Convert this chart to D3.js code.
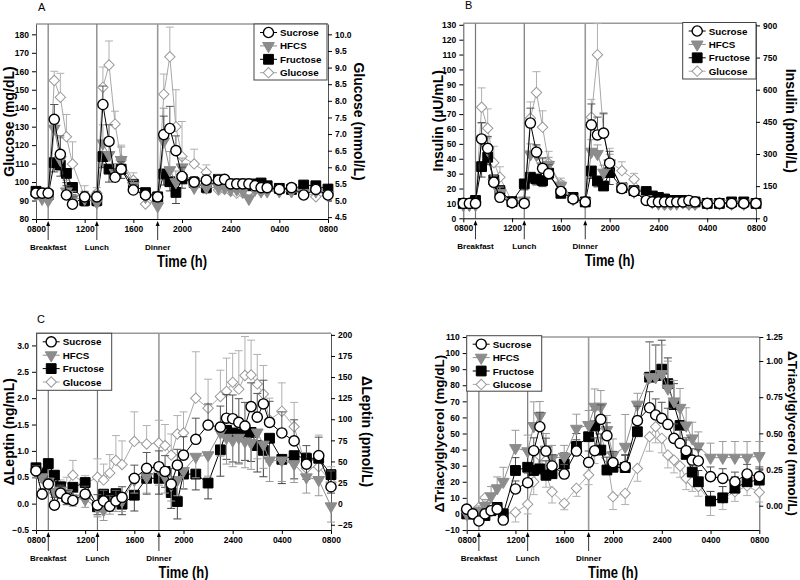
<!DOCTYPE html>
<html><head><meta charset="utf-8">
<script src="https://cdn.jsdelivr.net/npm/d3@7"></script>
<style>body{margin:0;background:#fff}svg{display:block;font-family:Arial,"Liberation Sans",sans-serif}</style>
</head><body><svg id="c" width="800" height="580"></svg>
<script>
// ---- shared ----
const times = [8,8.5,9,9.5,10,10.5,11,12,13,13.5,14,14.5,15,16,17,18,18.5,19,19.5,20,21,22,23,23.5,24,24.5,25,25.5,26,26.5,27,28,29,30,31,32];
const timeTicks = [8,12,16,20,24,28,32];
const timeTickLabels = ["0800","1200","1600","2000","2400","0400","0800"];
const meals = [9,13,18];
const mealLabels = ["Breakfast","Lunch","Dinner"];
const seriesNames = ["Sucrose","HFCS","Fructose","Glucose"];

// ---- Panel A: glucose mg/dL ----
const sucA = [94,94,94,134,115,93,88,92,92,142,122,102.6,107,95.7,93,92,125.7,129,117,103,100,101,101,101.5,99,99,99,99,98,97,97,96,97,93,96,93];
const hfcsA = [93,91,90,129,112,95,91,91,89,121,114.7,105,112,98,92,87,122,106.5,100,108,97,97,97,97,96,96,95,91,96,95,95,95,95,94,95,93];
const fruA = [95,94,93,110.5,109.2,104.7,97.1,90,90,113.8,107,104.7,107,98.8,94.3,92,104.4,100.2,94.4,101.7,99.7,97.1,101.5,100,99,98,99,98,99,99.5,98,96.6,96,98.4,98,96.2];
const gluA = [93,92,92,155,145.9,124.6,109.8,92,94,151.3,163.4,131.4,112,101,88.1,90,147.5,167.9,130,113.8,109.8,105.3,95.7,96,95,94,94,95,96,95,96,96,96,95,92,93];
const sucAErr = [2,2,2,8,10,5,4,3,3,10,9,4,4,3,2,2,10,12,8,5,3,3,3,2,2,2,2,2,2,2,2,2,2,2,2,2];
const hfcsAErr = [2,2,2,13,12,6,4,3,3,10,8,5,7,3,2,3,18,10,6,5,3,2,2,2,2,2,2,2,2,2,2,2,2,2,2,2];
const fruAErr = [2,2,2,5,6,5,4,3,3,6,7,4,5,3,3,3,6,5,6,5,3,3,3,2,2,2,2,2,2,2,2,2,2,2,2,2];
const gluAErr = [3,3,3,5,13,12,12,6,3,11,13,7,8,4,3,3,11,16,20,19,8,4,3,3,3,3,3,3,3,3,3,3,3,3,3,3];
const ticksA = [80,90,100,110,120,130,140,150,160,170,180];
const ticksAR = [4.5,5.0,5.5,6.0,6.5,7.0,7.5,8.0,8.5,9.0,9.5,10.0];

// ---- Panel B: insulin µU/mL ----
const sucB = [10,10,10,53.3,47,24.2,14.1,10.5,10,64,44.4,33.6,30,18,13,11,62.8,56,57.2,37,20,18,12,11,11,11,11,11,11,12,11,10,10,10,10,10];
const hfcsB = [9,9,9,53,46,24,17,11,12,43,42.6,35,36,22,13,11,44.8,43.3,30.7,37,21,18,13,11,10,10,10,10,11,10,10,10,10,10,10,10];
const fruB = [10,10,12,34.7,41,25.8,18.6,11.2,23.1,27.6,26.4,25.3,30.3,16.8,14,11,31.8,25.1,21.7,30.7,20.6,18.6,18,15,14,13,12,12,12,11,11,10,10,11,11,10];
const gluB = [10,9,9,74.6,60.5,37.4,27.6,11,12,67.2,84.5,61.2,37,23,14,11,67.9,109.8,57,38,32,26.2,13,11,10,9,9,10,10,9,9,10,10,9,9,10];
const sucBErr = [1,1,1,11,8,4,3,2,2,10,5,7,6,3,2,2,14,12,13,8,3,3,2,1,1,1,1,1,1,1,1,1,1,1,1,1];
const hfcsBErr = [1,1,1,11,8,5,4,2,2,7,6,5,5,3,2,2,8,6,5,6,3,3,2,1,1,1,1,1,1,1,1,1,1,1,1,1];
const fruBErr = [1,1,2,7,5,4,3,2,4,4,4,4,4,3,2,2,5,4,3,8,3,3,3,2,2,2,1,1,1,1,1,1,1,1,1,1];
const gluBErr = [1,1,1,13,13,11,7,2,2,11,14,11,8,4,2,2,12,21,14,9,6,4,2,1,1,1,1,1,1,1,1,1,1,1,1,1];
const ticksB = [0,10,20,30,40,50,60,70,80,90,100,110,120,130];
const ticksBR = [0,150,300,450,600,750,900];

// ---- Panel C: delta leptin ng/mL ----
const sucC = [0.62,0.18,0.37,-0.03,0.2,0.1,0.06,0.18,-0.03,0.05,-0.05,0.05,0.12,0.48,0.67,0.70,0.61,0.37,0.73,0.92,1.22,1.49,1.45,1.62,1.61,1.54,1.47,1.84,1.64,1.89,1.54,1.34,1.19,0.75,0.91,0.32];
const hfcsC = [0.6,0.5,0.42,0.22,0.25,0.2,0.1,0.08,-0.08,-0.12,0.0,0.05,0.05,0.45,0.5,0.65,0.5,0.35,0.45,0.62,0.89,0.92,1.35,1.25,1.2,1.25,1.18,1.15,1.35,1.12,0.82,0.82,0.75,0.5,0.45,-0.05];
const fruC = [0.68,0.58,0.76,0.54,0.32,0.13,0.31,0.40,-0.06,0.18,0.10,0.19,-0.01,0.16,0.48,0.48,0.61,0.21,0.04,0.56,0.56,0.39,1.02,1.39,1.34,1.32,1.37,1.35,1.10,1.01,1.24,0.84,0.91,0.86,0.86,0.55];
const gluC = [0.6,0.5,0.42,0.2,0.25,0.3,0.54,0.38,0.5,0.45,0.58,0.82,0.74,1.18,1.13,1.15,1.10,0.92,1.32,1.34,2.0,1.81,2.03,2.13,2.3,2.17,2.43,2.44,2.27,2.08,1.59,1.75,1.46,0.67,0.70,0.4];
const sucCErr = [0.1,0.1,0.1,0.15,0.15,0.15,0.15,0.15,0.2,0.2,0.2,0.2,0.2,0.25,0.3,0.3,0.3,0.3,0.3,0.35,0.4,0.4,0.4,0.45,0.45,0.45,0.45,0.45,0.45,0.45,0.4,0.4,0.4,0.35,0.35,0.3];
const hfcsCErr = [0.1,0.1,0.1,0.15,0.15,0.15,0.15,0.15,0.17,0.2,0.2,0.2,0.2,0.25,0.3,0.3,0.3,0.3,0.3,0.35,0.4,0.4,0.45,0.5,0.5,0.5,0.5,0.5,0.5,0.45,0.4,0.4,0.35,0.3,0.3,0.3];
const fruCErr = [0.1,0.1,0.1,0.12,0.12,0.15,0.15,0.15,0.15,0.2,0.2,0.2,0.2,0.3,0.3,0.3,0.3,0.3,0.33,0.28,0.3,0.3,0.5,0.55,0.55,0.55,0.55,0.55,0.5,0.5,0.45,0.46,0.44,0.4,0.4,0.35];
const gluCErr = [0.15,0.15,0.15,0.2,0.2,0.2,0.28,0.15,0.35,0.3,0.35,0.47,0.45,0.56,0.35,0.43,0.4,0.4,0.35,0.4,0.88,0.55,0.5,0.63,0.55,0.73,0.74,0.66,0.56,0.54,0.41,0.54,0.46,0.3,0.6,0.3];
const ticksC = [-0.5,0,0.5,1.0,1.5,2.0,2.5,3.0];
const ticksCR = [-25,0,25,50,75,100,125,150,175,200];

// ---- Panel D: delta triacylglycerol mg/dL ----
const sucD = [3,0,-4.4,0,2,3,-3.8,15.5,19.4,39.3,54.2,39.1,29.8,24.8,39.1,32.1,39.3,58.8,48.7,31.9,29.4,58,66,61.5,59.4,55.7,47,43.9,39.3,33.5,32.9,23.2,22.1,20,24.8,23.2];
const hfcsD = [0,1,2,5,11,16,20,41,39,54.7,60.9,40,34.6,35.6,53,55.3,66.7,66.7,52.2,36.6,41.8,68,85,85,87,78,70,66,55,47,42,35,35,35,35,36];
const fruD = [0,0,0,-1,2,4,0,27,29,27,28,24,25,31,42,48,54.7,39.7,27.3,29,28.8,51.1,85,86,90,81,68,55,37,26,20,8,10,16,20,21];
const gluD = [0,0,4,10,5,3,0,1,6,20,36,24.6,13.8,6.6,15.9,24.2,39.3,50,35,10.7,12.8,28.3,48,54.2,47,36.6,33.5,29.8,22.1,20,17,8,9.7,13.8,17.4,13.4];
const sucDErr = [2,2,2,3,3,3,3,5,6,8,9,8,7,6,7,7,8,9,8,7,7,9,10,10,10,10,9,8,8,7,7,6,6,6,6,6];
const hfcsDErr = [2,2,3,4,6,7,9,11,10,15,9,10,8,7,9,9,11,10,9,10,20,7,22,20,18,17,13,12,11,10,9,9,10,10,10,9];
const fruDErr = [2,2,2,3,3,3,3,8,10,10,12,9,8,7,8,9,10,10,8,8,8,9,22,19,18,16,13,11,9,8,7,6,7,7,7,7];
const gluDErr = [2,2,3,3,3,3,3,6,6,8,9,8,7,4,5,6,8,9,8,8,7,8,9,10,9,8,8,7,7,6,6,9,7,6,6,6];
const ticksD = [-10,0,10,20,30,40,50,60,70,80,90,100,110];
const ticksDR = [0,0.25,0.5,0.75,1.0,1.25];

// ---- styles ----
const styles = {
  Sucrose: {shape:"circle", fill:"#fff", stroke:"#000", line:"#000", err:"#555"},
  HFCS: {shape:"triangle", fill:"#8c8c8c", stroke:"#8c8c8c", line:"#8c8c8c", err:"#9a9a9a"},
  Fructose: {shape:"square", fill:"#000", stroke:"#000", line:"#000", err:"#444"},
  Glucose: {shape:"diamond", fill:"#fff", stroke:"#999", line:"#a8a8a8", err:"#b0b0b0"}
};
function marker(sel, shape) {
  if (shape === "circle") sel.attr("d", d3.symbol(d3.symbolCircle, 82)());
  else if (shape === "square") sel.attr("d", d3.symbol(d3.symbolSquare, 96)());
  else if (shape === "triangle") sel.attr("d", d3.symbol(d3.symbolTriangle, 60)()).attr("data-rot", 180);
  else sel.attr("d", d3.symbol(d3.symbolSquare, 54)()).attr("data-rot", 45);
}

const svg = d3.select("#c");

function panel(cfg) {
  const g = svg.append("g");
  const x = d3.scaleLinear().domain([8, 32]).range([cfg.x0, cfg.x1]);
  const y = d3.scaleLinear().domain(cfg.yDomain).range([cfg.yB, cfg.yT]);
  const yr = cfg.yRight;

  // frame
  g.append("line").attr("x1", cfg.x0).attr("x2", cfg.x1).attr("y1", cfg.yT).attr("y2", cfg.yT)
    .attr("stroke", "#999").attr("stroke-width", 1.5);

  // meal lines
  meals.forEach((m, i) => {
    g.append("line").attr("x1", x(m)).attr("x2", x(m)).attr("y1", cfg.yT).attr("y2", cfg.yB)
      .attr("stroke", i === 2 ? "#999" : "#777").attr("stroke-width", i === 2 ? 1.6 : 1.2);
    g.append("line").attr("x1", x(m)).attr("x2", x(m)).attr("y1", cfg.yB + 6).attr("y2", cfg.yB + 21)
      .attr("stroke", "#000").attr("stroke-width", 0.8);
    g.append("path").attr("d", `M${x(m)},${cfg.yB + 2}l-2,5h4z`).attr("fill", "#000");
    g.append("text").attr("x", x(m)).attr("y", cfg.yB + 31).attr("text-anchor", "middle")
      .attr("font-size", 8).attr("font-weight", "bold").text(mealLabels[i]);
  });

  // axes
  const xa = g.append("g").attr("transform", `translate(0,${cfg.yB})`)
    .call(d3.axisBottom(x).tickValues(timeTicks).tickFormat((d, i) => timeTickLabels[i]).tickSize(4).tickSizeOuter(0));
  const ya = g.append("g").attr("transform", `translate(${cfg.x0},0)`)
    .call(d3.axisLeft(y).tickValues(cfg.ticks).tickFormat(cfg.fmt).tickSize(4).tickSizeOuter(0));
  const yra = g.append("g").attr("transform", `translate(${cfg.x1},0)`)
    .call(d3.axisRight(yr).tickValues(cfg.ticksR).tickFormat(cfg.fmtR).tickSize(4).tickSizeOuter(0));
  [xa, ya, yra].forEach(a => {
    a.selectAll("text").attr("font-size", 8.5).attr("font-weight", "bold").attr("fill", "#000")
      .attr("font-family", "Arial, 'Liberation Sans', sans-serif");
    a.select(".domain").attr("stroke", "#000");
  });
  ya.selectAll(".domain").attr("stroke", "#555");
  yra.selectAll(".domain").attr("stroke", "#555");

  // series
  const series = cfg.series;
  const order = [3, 2, 1, 0];
  order.forEach(si => {
    const s = series[si], st = styles[seriesNames[si]];
    const pts = times.map((t, i) => ({t, v: s.v[i], e: s.e[i]}));
    const eg = g.append("g");
    pts.forEach(p => {
      const yv = y(p.v), ye = y(p.v + s.dir * p.e);
      eg.append("line").attr("x1", x(p.t)).attr("x2", x(p.t)).attr("y1", yv).attr("y2", ye)
        .attr("stroke", st.err).attr("stroke-width", 1);
      eg.append("line").attr("x1", x(p.t) - 4).attr("x2", x(p.t) + 4).attr("y1", ye).attr("y2", ye)
        .attr("stroke", st.err).attr("stroke-width", 1);
    });
    g.append("path").datum(pts)
      .attr("d", d3.line().x(p => x(p.t)).y(p => y(p.v)))
      .attr("fill", "none").attr("stroke", st.line).attr("stroke-width", 1);
    g.append("g").selectAll("path").data(pts).join("path")
      .each(function () { marker(d3.select(this), st.shape); })
      .attr("transform", function (p) {
        const r = this.getAttribute("data-rot");
        return `translate(${x(p.t)},${y(p.v)})` + (r ? ` rotate(${r})` : "");
      })
      .attr("fill", st.fill).attr("stroke", st.stroke).attr("stroke-width", st.shape === "circle" ? 1.4 : 1);
  });

  // legend
  const L = cfg.legend;
  g.append("rect").attr("x", L.x).attr("y", L.y).attr("width", L.w).attr("height", L.h)
    .attr("fill", "#fff").attr("stroke", "#444").attr("stroke-width", 1);
  seriesNames.forEach((n, i) => {
    const st = styles[n], ry = L.y + 8.5 + i * 13.4;
    g.append("line").attr("x1", L.x + 6).attr("x2", L.x + 23).attr("y1", ry).attr("y2", ry)
      .attr("stroke", st.line).attr("stroke-width", 1);
    const mk = g.append("path");
    marker(mk, st.shape);
    const r = mk.attr("data-rot");
    mk.attr("transform", `translate(${L.x + 14.5},${ry})` + (r ? ` rotate(${r})` : ""))
      .attr("fill", st.fill).attr("stroke", st.stroke).attr("stroke-width", st.shape === "circle" ? 1.4 : 1);
    g.append("text").attr("x", L.x + 26).attr("y", ry + 3.5).attr("font-size", 9.8)
      .attr("font-weight", "bold").text(n);
  });

  // titles
  const ym = (cfg.yT + cfg.yB) / 2;
  g.append("text").attr("transform", `translate(${cfg.ylx},${ym}) rotate(-90)`).attr("text-anchor", "middle")
    .attr("font-size", cfg.titleSize || 14).attr("font-weight", "bold").text(cfg.yLabel);
  g.append("text").attr("transform", `translate(${cfg.yrx},${ym}) rotate(90)`).attr("text-anchor", "middle")
    .attr("font-size", cfg.titleSize || 14).attr("font-weight", "bold").text(cfg.yLabelR);
  g.append("text").attr("x", (cfg.x0 + cfg.x1) / 2).attr("y", cfg.yB + 48).attr("text-anchor", "middle")
    .attr("font-size", 16).attr("font-weight", "bold")
    .attr("textLength", 50).attr("lengthAdjust", "spacingAndGlyphs").text("Time (h)");
  if (cfg.letter) g.append("text").attr("x", cfg.letter[0]).attr("y", cfg.letter[1]).attr("font-size", 11)
    .text(cfg.letter[2]);
}

// Panel A
panel({
  x0: 36, x1: 328, yT: 24, yB: 219, yDomain: [80, 185.6],
  yRight: d3.scaleLinear().domain([80 / 18, 185.6 / 18]).range([219, 24]),
  ticks: ticksA, ticksR: ticksAR, fmt: d3.format("d"), fmtR: d3.format(".1f"),
  series: [{v: sucA, e: sucAErr, dir: 1}, {v: hfcsA, e: hfcsAErr, dir: 1}, {v: fruA, e: fruAErr, dir: -1}, {v: gluA, e: gluAErr, dir: 1}],
  legend: {x: 254, y: 24, w: 73, h: 56},
  yLabel: "Glucose (mg/dL)", yLabelR: "Glucose (mmol/L)", ylx: 14, yrx: 354, letter: [38, 11, "A"]
});
// Panel B
panel({
  x0: 463.3, x1: 756, yT: 23.3, yB: 218.3, yDomain: [0, 131],
  yRight: d3.scaleLinear().domain([0, 131 * 6.945]).range([218.3, 23.3]),
  ticks: ticksB, ticksR: ticksBR, fmt: d3.format("d"), fmtR: d3.format("d"),
  series: [{v: sucB, e: sucBErr, dir: 1}, {v: hfcsB, e: hfcsBErr, dir: 1}, {v: fruB, e: fruBErr, dir: -1}, {v: gluB, e: gluBErr, dir: 1}],
  legend: {x: 682.7, y: 22.5, w: 73.3, h: 56.5},
  yLabel: "Insulin (µU/mL)", yLabelR: "Insulin (pmol/L)", ylx: 443, yrx: 786, letter: [465, 9, "B"]
});
// Panel C
panel({
  x0: 36, x1: 331, yT: 333.3, yB: 530, yDomain: [-0.5, 3.23],
  yRight: d3.scaleLinear().domain([-0.5 * 62.5, 3.23 * 62.5]).range([530, 333.3]),
  ticks: ticksC, ticksR: ticksCR, fmt: d3.format(".1f"), fmtR: d3.format("d"),
  series: [{v: sucC, e: sucCErr, dir: 1}, {v: hfcsC, e: hfcsCErr, dir: -1}, {v: fruC, e: fruCErr, dir: -1}, {v: gluC, e: gluCErr, dir: 1}],
  legend: {x: 36.7, y: 333.3, w: 75, h: 57},
  yLabel: "\u0394Leptin (ng/mL)", yLabelR: "\u0394Leptin (pmol/L)", ylx: 14, yrx: 362, letter: [37, 323, "C"]
});
// Panel D
panel({
  x0: 466.7, x1: 759.3, yT: 337, yB: 530, yDomain: [-10, 110],
  yRight: d3.scaleLinear().domain([-0.168, 1.0, 1.25]).range([530, 361, 337]),
  ticks: ticksD, ticksR: ticksDR, fmt: d3.format("d"), fmtR: d3.format(".2f"),
  series: [{v: sucD, e: sucDErr, dir: 1}, {v: hfcsD, e: hfcsDErr, dir: 1}, {v: fruD, e: fruDErr, dir: 1}, {v: gluD, e: gluDErr, dir: -1}],
  legend: {x: 466.7, y: 335.7, w: 75, h: 55.5},
  yLabel: "\u0394Triacylglycerol (mg/dL)", yLabelR: "\u0394Triacylglycerol (mmol/L)", ylx: 444, yrx: 788, letter: null, titleSize: 13.5
});
</script></body></html>
